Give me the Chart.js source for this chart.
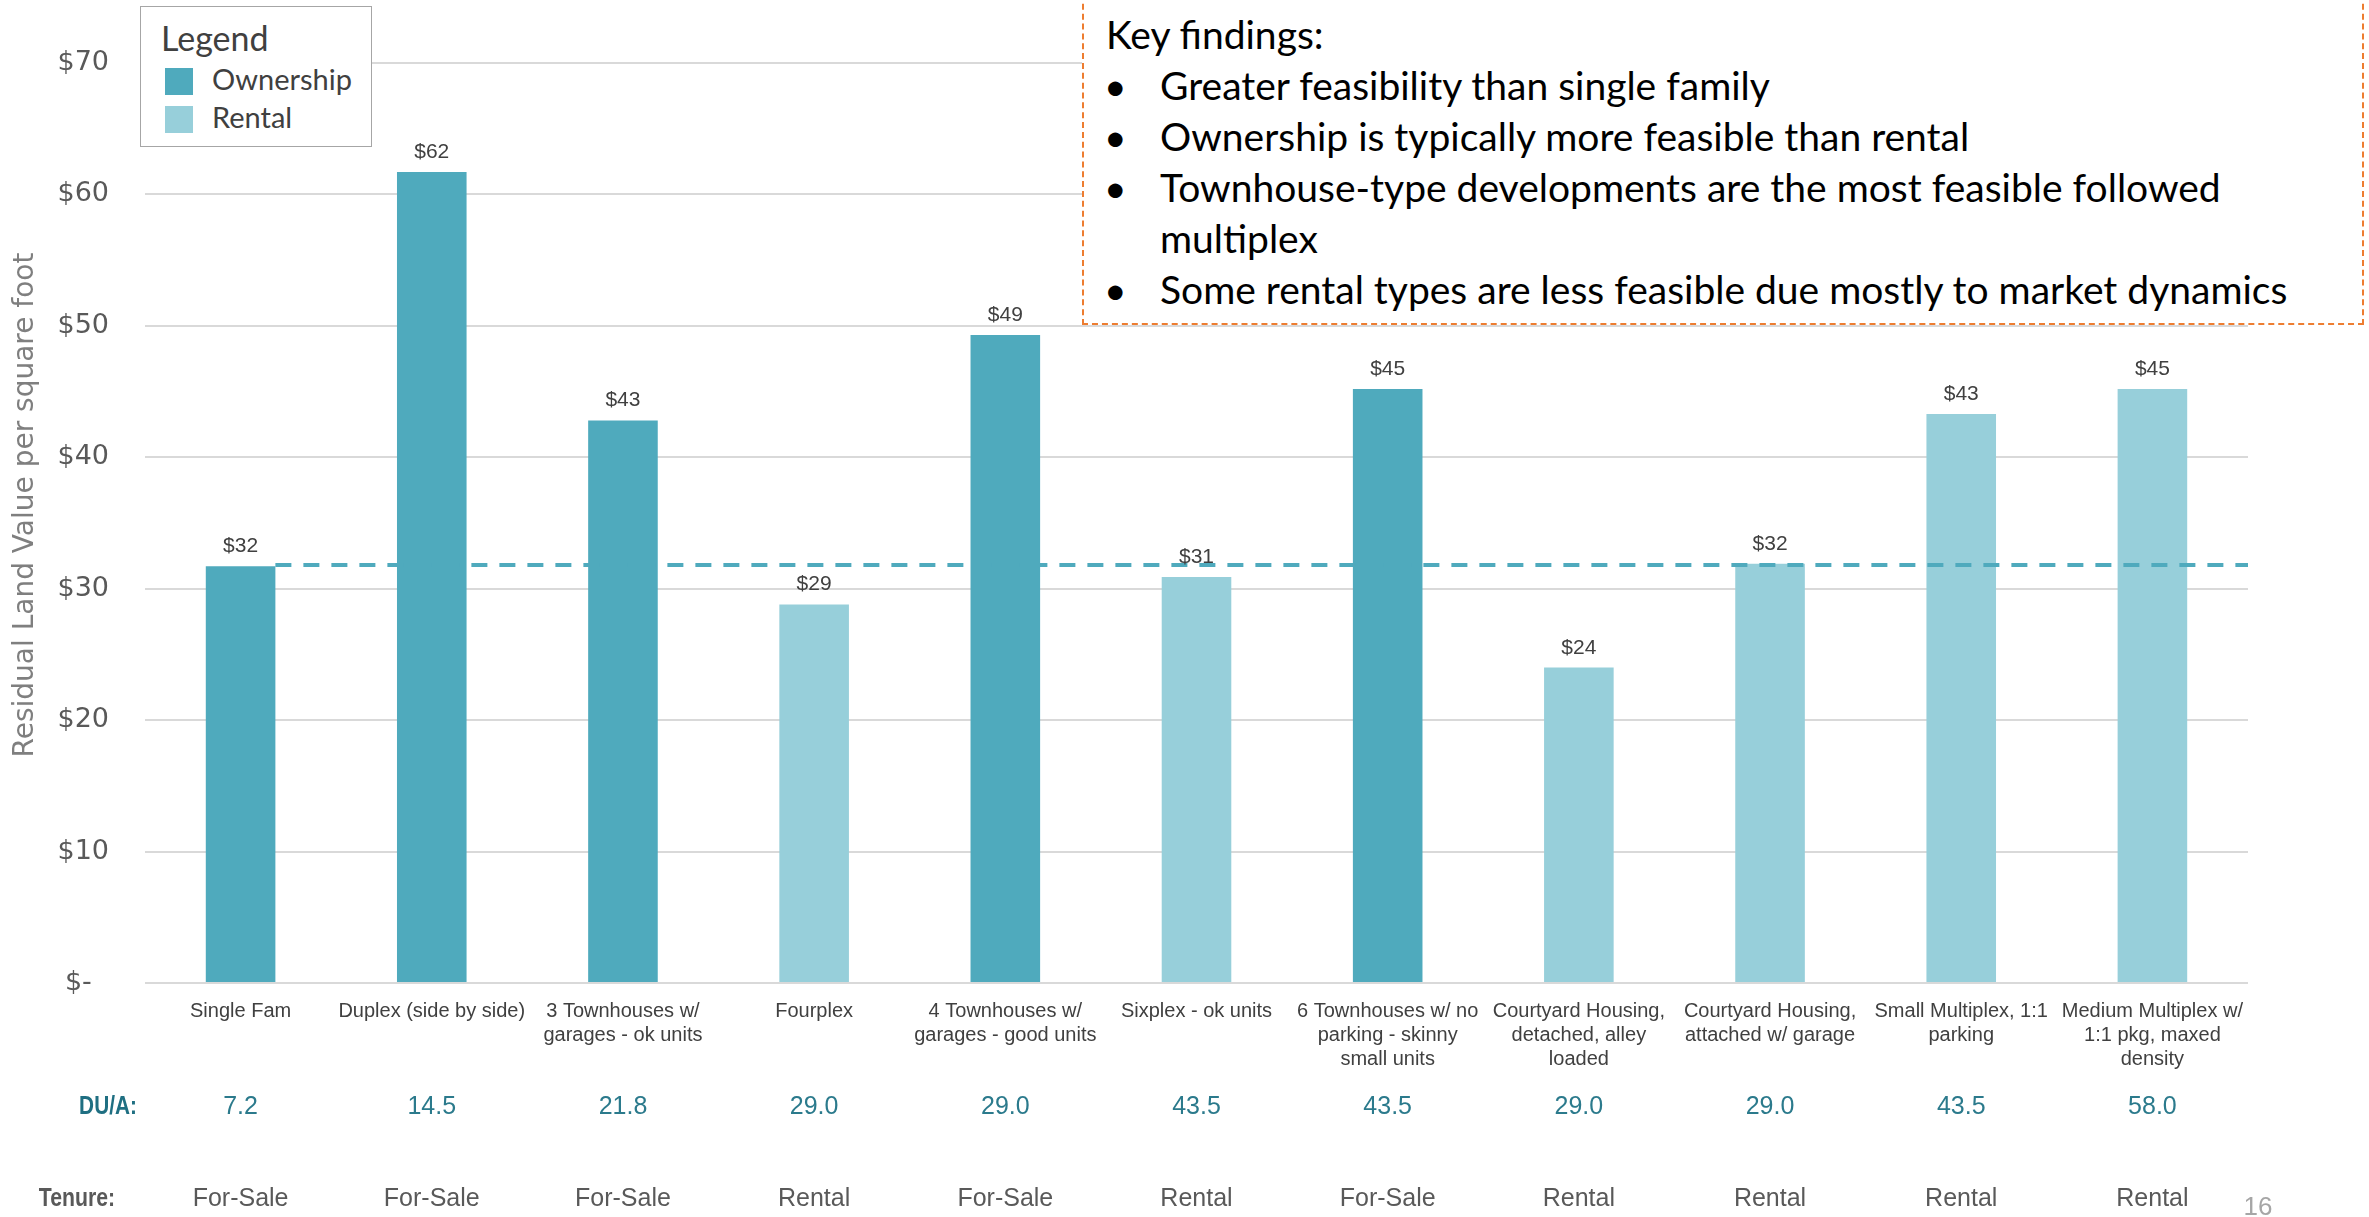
<!DOCTYPE html>
<html>
<head>
<meta charset="utf-8">
<script src="https://cdn.jsdelivr.net/npm/chart.js@4.4.0/dist/chart.umd.min.js"></script>
<style>
  html, body { margin: 0; padding: 0; background: #fff; overflow: hidden; }
  #page { position: relative; width: 2369px; height: 1217px; }
  #chart { position: absolute; left: 0; top: 0; }
  #legend {
    position: absolute; left: 140px; top: 6px; width: 230px; height: 139px;
    border: 1.5px solid #a6a6a6; background: #fff;
    font-family: Lato, 'Open Sans', sans-serif; color: #404040;
  }
  #legend .title { position: absolute; left: 20px; top: 13px; font-size: 34px; line-height: 36px; }
  #legend .item { position: absolute; left: 24px; font-size: 29px; line-height: 30px; white-space: nowrap; }
  #legend .sw { display: inline-block; width: 28px; height: 27px; vertical-align: -5px; margin-right: 19px; }
  #findings {
    position: absolute; left: 1082px; top: -6px; width: 1278px; height: 327px;
    border: 2px dashed #ed7d31; background: #fff;
    font-family: Lato, 'Open Sans', sans-serif; font-size: 39px; color: #000;
  }
  #findings div { position: absolute; white-space: nowrap; line-height: 44px; }
</style>
</head>
<body>
<div id="page">
  <canvas id="chart" width="2369" height="1217"></canvas>
  <div id="legend"></div>
  <div id="findings"></div>
</div>
<script>
(function () {
  'use strict';

  var categories = [
    'Single Fam',
    'Duplex (side by side)',
    ['3 Townhouses w/', 'garages - ok units'],
    'Fourplex',
    ['4 Townhouses w/', 'garages - good units'],
    'Sixplex - ok units',
    ['6 Townhouses w/ no', 'parking - skinny', 'small units'],
    ['Courtyard Housing,', 'detached, alley', 'loaded'],
    ['Courtyard Housing,', 'attached w/ garage'],
    ['Small Multiplex, 1:1', 'parking'],
    ['Medium Multiplex w/', '1:1 pkg, maxed', 'density']
  ];
  var values = [31.7, 61.7, 42.8, 28.8, 49.3, 30.9, 45.2, 24.0, 31.9, 43.3, 45.2];
  var tenure = ['For-Sale', 'For-Sale', 'For-Sale', 'Rental', 'For-Sale', 'Rental',
                'For-Sale', 'Rental', 'Rental', 'Rental', 'Rental'];
  var duPerAcre = ['7.2', '14.5', '21.8', '29.0', '29.0', '43.5', '43.5', '29.0', '29.0', '43.5', '58.0'];
  var benchmark = 31.8;
  var yTicks = [0, 10, 20, 30, 40, 50, 60, 70];
  var seriesNames = ['Ownership', 'Rental'];
  var seriesColors = ['#4faabd', '#97cfda'];
  var findings = [
    'Greater feasibility than single family',
    'Ownership is typically more feasible than rental',
    'Townhouse-type developments are the most feasible followed\nmultiplex',
    'Some rental types are less feasible due mostly to market dynamics'
  ];

  var ownership = values.map(function (v, i) { return tenure[i] === 'For-Sale' ? v : null; });
  var rental = values.map(function (v, i) { return tenure[i] === 'Rental' ? v : null; });

  // html legend
  var legend = document.getElementById('legend');
  var html = '<div class="title">Legend</div>';
  seriesNames.forEach(function (n, i) {
    html += '<div class="item" style="top:' + (57 + i * 38) + 'px"><span class="sw" style="background:' +
      seriesColors[i] + '"></span>' + n + '</div>';
  });
  legend.innerHTML = html;

  // findings box
  var box = document.getElementById('findings');
  var out = '<div style="left:22px;top:16px">Key findings:</div>';
  var top = 67;
  findings.forEach(function (f) {
    var lines = f.split('\n');
    out += '<div style="left:20px;top:' + top + 'px">&bull;</div>';
    lines.forEach(function (l) {
      out += '<div style="left:76px;top:' + top + 'px">' + l + '</div>';
      top += 51;
    });
  });
  box.innerHTML = out;

  var extras = {
    id: 'extras',
    afterDatasetsDraw: function (chart) {
      var ctx = chart.ctx;
      var xs = chart.scales.x, ys = chart.scales.y, area = chart.chartArea;
      var first = chart.getDatasetMeta(0).data[0];
      var yb = ys.getPixelForValue(benchmark);
      ctx.save();
      ctx.strokeStyle = seriesColors[0];
      ctx.lineWidth = 4;
      ctx.setLineDash([16, 12]);
      ctx.beginPath();
      ctx.moveTo(first.x + first.width / 2, yb);
      ctx.lineTo(area.right, yb);
      ctx.stroke();
      ctx.setLineDash([]);

      ctx.fillStyle = '#404040';
      ctx.font = '21px "Liberation Sans", Arial, sans-serif';
      ctx.textAlign = 'center';
      ctx.textBaseline = 'alphabetic';
      values.forEach(function (v, i) {
        ctx.fillText('$' + Math.round(v), xs.getPixelForValue(i), ys.getPixelForValue(v) - 14);
      });
      ctx.restore();
    },
    afterDraw: function (chart) {
      var ctx = chart.ctx;
      var xs = chart.scales.x;
      ctx.save();
      ctx.textAlign = 'center';
      ctx.textBaseline = 'middle';

      // y axis title, placed a bit above the plot centre as in the slide
      ctx.save();
      ctx.translate(26, 505);
      ctx.rotate(-Math.PI / 2);
      ctx.font = '28px "DejaVu Sans", sans-serif';
      ctx.fillStyle = '#7f7f7f';
      ctx.fillText('Residual Land Value per square foot', 0, 0);
      ctx.restore();

      ctx.save();
      ctx.translate(108, 1107);
      ctx.scale(0.8, 1);
      ctx.font = 'bold 26px "Liberation Sans", sans-serif';
      ctx.fillStyle = '#1f6f82';
      ctx.fillText('DU/A:', 0, 0);
      ctx.restore();

      ctx.font = 'bold 25px "Liberation Sans", sans-serif';
      ctx.fillStyle = '#595959';
      ctx.save();
      ctx.translate(77, 1199);
      ctx.scale(0.85, 1);
      ctx.fillText('Tenure:', 0, 0);
      ctx.restore();

      ctx.font = '25px "Liberation Sans", sans-serif';
      duPerAcre.forEach(function (d, i) {
        ctx.fillStyle = '#2b7a8c';
        ctx.fillText(d, xs.getPixelForValue(i), 1107);
      });
      tenure.forEach(function (t, i) {
        ctx.fillStyle = '#595959';
        ctx.fillText(t, xs.getPixelForValue(i), 1199);
      });
      ctx.font = '26px "Liberation Sans", sans-serif';
      ctx.fillStyle = '#a6a6a6';
      ctx.fillText('16', 2258, 1208);
      ctx.restore();
    }
  };

  new Chart(document.getElementById('chart'), {
    type: 'bar',
    data: {
      labels: categories,
      datasets: [
        { label: seriesNames[0], data: ownership, backgroundColor: seriesColors[0] },
        { label: seriesNames[1], data: rental, backgroundColor: seriesColors[1] }
      ]
    },
    options: {
      responsive: false,
      animation: false,
      grouped: false,
      barPercentage: 0.364,
      categoryPercentage: 1,
      layout: { padding: { left: 0, top: 63, right: 121, bottom: 0 } },
      plugins: { legend: { display: false }, tooltip: { enabled: false } },
      scales: {
        x: {
          afterFit: function (s) { s.height = 234; },
          grid: { display: false },
          border: { display: false },
          ticks: {
            autoSkip: false,
            maxRotation: 0,
            padding: 8,
            color: '#404040',
            font: { family: '"Liberation Sans", sans-serif', size: 20, lineHeight: 1.2 }
          }
        },
        y: {
          min: yTicks[0],
          max: yTicks[yTicks.length - 1],
          afterFit: function (s) { s.width = 145; },
          afterBuildTicks: function (s) {
            s.ticks = yTicks.map(function (v) { return { value: v }; });
          },
          grid: { color: '#d9d9d9', lineWidth: 2, drawTicks: false },
          border: { display: false },
          ticks: {
            padding: 36,
            color: '#595959',
            font: { family: '"DejaVu Sans", sans-serif', size: 27 },
            callback: function (v) { return v === 0 ? '$-  ' : '$' + v; }
          }
        }
      }
    },
    plugins: [extras]
  });
})();
</script>
</body>
</html>
